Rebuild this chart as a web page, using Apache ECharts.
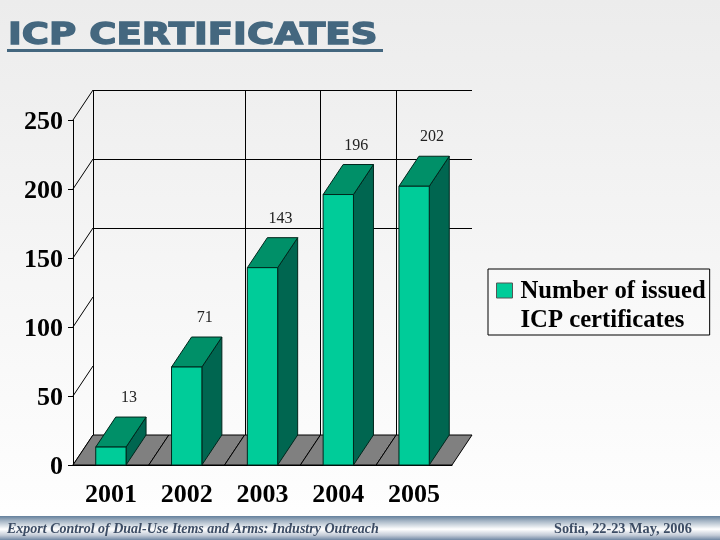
<!DOCTYPE html>
<html><head><meta charset="utf-8">
<style>html,body{margin:0;padding:0;background:#fff}#c{width:720px;height:540px}</style>
<script src="https://cdn.jsdelivr.net/npm/echarts@6/dist/echarts.min.js"></script>
</head><body><div id="c"></div>
<script>
const years = ['2001','2002','2003','2004','2005'];
const certificates = [13,71,143,196,202];
const valueTicks = [0,50,100,150,200,250];
const backGridValues = [150,200,250];
const backGridYears = ['2001','2003','2004','2005'];
const seriesName = 'Number of issued\nICP certificates';
const titleText = 'ICP CERTIFICATES';
const footerLeft = 'Export Control of Dual-Use Items and Arms: Industry Outreach';
const footerRight = 'Sofia, 22-23 May, 2006';

const DX = 20, DY = 30;
const SERIF = '"Liberation Serif"';
const chart = echarts.init(document.getElementById('c'), null, {renderer:'canvas'});
const axisLabel = {color:'#000', fontFamily:SERIF, fontWeight:'bold', fontSize:26};
const blackLine = {color:'#000', width:1};
const crisp = v => Math.round(v) + 0.5;

chart.setOption({
  animation:false,
  backgroundColor:{type:'linear',x:0,y:0,x2:0,y2:1,colorStops:[{offset:0,color:'#ececec'},{offset:1,color:'#ffffff'}]},
  legend:{left:488,top:269,padding:[8,4,0,8],itemGap:0,itemWidth:16,itemHeight:52,borderColor:'#000',borderWidth:1,
    backgroundColor:'rgba(255,255,255,0.25)',
    data:[{name:seriesName,icon:'path://M0 3H16V18H0Z M0 0L0 0Z M0 52L0 52Z',itemStyle:{borderColor:'#555',borderWidth:1}}],
    textStyle:{color:'#000',fontFamily:SERIF,fontWeight:'bold',fontSize:24.7,lineHeight:29,padding:[0,0,0,3]}},
  grid:{left:73,right:268,top:120,bottom:75},
  xAxis:{type:'category',data:years,axisLine:{lineStyle:blackLine},axisTick:{length:5,lineStyle:blackLine},
      axisLabel:{...axisLabel,margin:17},splitLine:{show:false}},
  yAxis:{type:'value',min:0,max:250,interval:50,axisLine:{show:true,lineStyle:blackLine},
      axisTick:{show:true,length:5,lineStyle:blackLine},
      axisLabel:{margin:10,formatter:'{v|{value}}',rich:{v:{...axisLabel,padding:[5,0,0,0]}}},splitLine:{show:false}},
  series:[
    {type:'custom',name:'wall',z:1,silent:true,data:valueTicks.map(v=>[v]),
      encode:{y:0},
      renderItem(params,api){
        const x=params.coordSys.x, y=api.coord([0,api.value(0)])[1];
        return {type:'line',shape:{x1:x,y1:y,x2:x+DX,y2:y-DY},style:{stroke:'#000',lineWidth:1}};
      }},
    {type:'custom',name:'backHorizontal',z:1,silent:true,data:backGridValues.map(v=>[v]),
      encode:{y:0},
      renderItem(params,api){
        const cs=params.coordSys, y=crisp(api.coord([0,api.value(0)])[1]-DY);
        return {type:'line',shape:{x1:cs.x+DX,y1:y,x2:cs.x+cs.width+DX,y2:y},style:{stroke:'#000',lineWidth:1}};
      }},
    {type:'custom',name:'backVertical',z:1,silent:true,data:backGridYears.map(y=>[years.indexOf(y)]),
      encode:{x:0},
      renderItem(params,api){
        const cs=params.coordSys, w=api.size([1,0])[0];
        const x=crisp(api.coord([api.value(0),0])[0]-w/2+DX);
        return {type:'line',shape:{x1:x,y1:cs.y-DY,x2:x,y2:cs.y+cs.height-DY},style:{stroke:'#000',lineWidth:1}};
      }},
    {type:'custom',name:'floor',z:2,silent:true,data:years.map((_,i)=>[i]),
      encode:{x:0},
      renderItem(params,api){
        const c=api.coord([api.value(0),0]), w=api.size([1,0])[0];
        const l=c[0]-w/2, r=c[0]+w/2, y=c[1];
        return {type:'polygon',shape:{points:[[l,y],[r,y],[r+DX,y-DY],[l+DX,y-DY]]},
          style:{fill:'#808080',stroke:'#000',lineWidth:1}};
      }},
    {type:'custom',name:seriesName,z:5,silent:true,
      itemStyle:{color:'#00cc99'},
      data:certificates.map((v,i)=>[i,v]),encode:{x:0,y:1},
      renderItem(params,api){
        const top=api.coord([api.value(0),api.value(1)]), base=api.coord([api.value(0),0]);
        const w=api.size([1,0])[0]*0.4, l=top[0]-w/2, r=top[0]+w/2, t=top[1], b=base[1];
        const edge={stroke:'#00261c',lineWidth:1};
        return {type:'group',children:[
          {type:'polygon',shape:{points:[[r,b],[r+DX,b-DY],[r+DX,t-DY],[r,t]]},style:{fill:'#006650',...edge}},
          {type:'polygon',shape:{points:[[l,t],[r,t],[r+DX,t-DY],[l+DX,t-DY]]},style:{fill:'#009068',...edge}},
          {type:'rect',shape:{x:l,y:t,width:w,height:b-t},style:{fill:'#00cc99',stroke:'#00261c',lineWidth:1}},
          {type:'text',style:{x:top[0]+18,y:t-49,text:String(api.value(1)),fill:'#222',font:'16px '+SERIF,align:'center',verticalAlign:'middle'}}
        ]};
      }}
  ],
  graphic:[
    {type:'text',x:8,y:51.5,scaleX:1.197,z:10,style:{text:titleText,fill:'#44677f',stroke:'#44677f',lineWidth:1.4,
      font:'bold 31px "DejaVu Sans"',verticalAlign:'bottom',
      shadowColor:'#aab4bc',shadowBlur:0,shadowOffsetX:2,shadowOffsetY:2}},
    {type:'rect',left:7,top:49,shape:{width:376,height:3},style:{fill:'#44677f'},z:10},
    {type:'rect',left:0,top:516,shape:{width:720,height:24},z:10,
      style:{fill:{type:'linear',x:0,y:0,x2:0,y2:1,colorStops:[
        {offset:0,color:'#64809c'},{offset:0.2,color:'#a4b4c4'},{offset:0.55,color:'#ffffff'},{offset:0.8,color:'#c4ccd8'},{offset:1,color:'#7088a4'}]}}},
    {type:'text',left:7,top:522,z:11,style:{text:footerLeft,fill:'#3c4c64',font:'italic bold 14px '+SERIF}},
    {type:'text',left:554,top:522,z:11,style:{text:footerRight,fill:'#3c4c64',font:'bold 14.3px '+SERIF}}
  ]
});
</script></body></html>
